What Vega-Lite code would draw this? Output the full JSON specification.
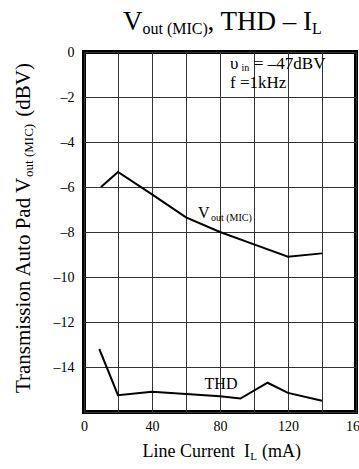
{
  "$schema": "https://vega.github.io/schema/vega-lite/v6.json",
  "width": 272,
  "height": 360,
  "autosize": {"type": "none"},
  "padding": {"left": 84, "top": 52, "right": 3, "bottom": 57},
  "background": "white",
  "config": {
    "view": {"stroke": "black", "strokeWidth": 4},
    "font": "Liberation Serif",
    "axis": {"labelFont": "Liberation Serif", "labelFontSize": 14, "labelColor": "black", "labelFlush": false},
    "text": {"font": "Liberation Serif", "color": "black"}
  },
  "encoding": {
    "x": {
      "field": "x", "type": "quantitative",
      "scale": {"domain": [0, 160], "nice": false, "zero": false},
      "axis": {
        "values": [0, 20, 40, 60, 80, 100, 120, 140, 160],
        "labelExpr": "datum.value % 40 === 0 ? datum.label : ''",
        "grid": true, "gridColor": "#333333", "gridWidth": 1,
        "domain": false, "ticks": false, "labelFlush": false,
        "labelFont": "Liberation Serif", "labelFontSize": 14, "labelColor": "black",
        "labelPadding": 7, "title": null
      }
    },
    "y": {
      "field": "y", "type": "quantitative",
      "scale": {"domain": [-16, 0], "nice": false, "zero": false},
      "axis": {
        "values": [-16, -14, -12, -10, -8, -6, -4, -2, 0],
        "labelExpr": "datum.value === -16 ? '' : (datum.value < 0 ? '–' + abs(datum.value) : '' + datum.value)",
        "grid": true, "gridColor": "#333333", "gridWidth": 1,
        "domain": false, "ticks": false, "labelFlush": false,
        "labelFont": "Liberation Serif", "labelFontSize": 14, "labelColor": "black",
        "labelPadding": 10, "title": null
      }
    }
  },
  "layer": [
    {
      "data": {"values": [
        {"series": "Vout", "x": 10, "y": -6.0},
        {"series": "Vout", "x": 20, "y": -5.33},
        {"series": "Vout", "x": 40, "y": -6.33},
        {"series": "Vout", "x": 60, "y": -7.35},
        {"series": "Vout", "x": 80, "y": -8.0},
        {"series": "Vout", "x": 100, "y": -8.55},
        {"series": "Vout", "x": 120, "y": -9.1},
        {"series": "Vout", "x": 140, "y": -8.95},
        {"series": "THD", "x": 9, "y": -13.2},
        {"series": "THD", "x": 20, "y": -15.25},
        {"series": "THD", "x": 40, "y": -15.1},
        {"series": "THD", "x": 60, "y": -15.2},
        {"series": "THD", "x": 80, "y": -15.3},
        {"series": "THD", "x": 92, "y": -15.4},
        {"series": "THD", "x": 108, "y": -14.7},
        {"series": "THD", "x": 120, "y": -15.15},
        {"series": "THD", "x": 140, "y": -15.5}
      ]},
      "mark": {"type": "line", "color": "black", "strokeWidth": 2},
      "encoding": {"detail": {"field": "series"}}
    },
    {
      "data": {"values": [
        {"x": 22.9, "y": 0.98, "t": "V"}
      ]},
      "mark": {"type": "text", "fontSize": 27, "align": "left", "baseline": "alphabetic"},
      "encoding": {"text": {"field": "t"}}
    },
    {
      "data": {"values": [
        {"x": 134.1, "y": 0.98, "t": ", THD – I"}
      ]},
      "mark": {"type": "text", "fontSize": 27, "align": "right", "baseline": "alphabetic"},
      "encoding": {"text": {"field": "t"}}
    },
    {
      "data": {"values": [
        {"x": 34.4, "y": 0.8, "t": "out (MIC)"},
        {"x": 134.1, "y": 0.8, "t": "L"}
      ]},
      "mark": {"type": "text", "fontSize": 16, "align": "left", "baseline": "alphabetic"},
      "encoding": {"text": {"field": "t"}}
    },
    {
      "data": {"values": [
        {"x": 97.6, "y": -18.0, "t": "Line Current\u00a0\u00a0I"}
      ]},
      "mark": {"type": "text", "fontSize": 18, "align": "right", "baseline": "alphabetic"},
      "encoding": {"text": {"field": "t"}}
    },
    {
      "data": {"values": [
        {"x": 104.7, "y": -18.0, "t": "(mA)"}
      ]},
      "mark": {"type": "text", "fontSize": 18, "align": "left", "baseline": "alphabetic"},
      "encoding": {"text": {"field": "t"}}
    },
    {
      "data": {"values": [
        {"x": 97.8, "y": -18.13, "t": "L"}
      ]},
      "mark": {"type": "text", "fontSize": 11, "align": "left", "baseline": "alphabetic"},
      "encoding": {"text": {"field": "t"}}
    },
    {
      "data": {"values": [
        {"x": -31.5, "y": -15.16, "t": "Transmission Auto Pad V"}
      ]},
      "mark": {"type": "text", "fontSize": 21, "angle": 270, "align": "left", "baseline": "alphabetic"},
      "encoding": {"text": {"field": "t"}}
    },
    {
      "data": {"values": [
        {"x": -31.5, "y": -0.49, "t": "(dBV)"}
      ]},
      "mark": {"type": "text", "fontSize": 21, "angle": 270, "align": "right", "baseline": "alphabetic"},
      "encoding": {"text": {"field": "t"}}
    },
    {
      "data": {"values": [
        {"x": -30.0, "y": -5.55, "t": "out (MIC)"}
      ]},
      "mark": {"type": "text", "fontSize": 13, "angle": 270, "align": "left", "baseline": "alphabetic"},
      "encoding": {"text": {"field": "t"}}
    },
    {
      "data": {"values": [
        {"x": 85.9, "y": -0.76, "t": "υ"},
        {"x": 100.0, "y": -0.76, "t": "= –47dBV"},
        {"x": 85.9, "y": -1.6, "t": "f =1kHz"}
      ]},
      "mark": {"type": "text", "fontSize": 17, "align": "left", "baseline": "alphabetic"},
      "encoding": {"text": {"field": "t"}}
    },
    {
      "data": {"values": [
        {"x": 67.1, "y": -7.38, "t": "V"}
      ]},
      "mark": {"type": "text", "fontSize": 16, "align": "left", "baseline": "alphabetic"},
      "encoding": {"text": {"field": "t"}}
    },
    {
      "data": {"values": [
        {"x": 80.6, "y": -14.98, "t": "THD"}
      ]},
      "mark": {"type": "text", "fontSize": 16, "align": "center", "baseline": "alphabetic"},
      "encoding": {"text": {"field": "t"}}
    },
    {
      "data": {"values": [
        {"x": 92.6, "y": -0.84, "t": "in"},
        {"x": 74.7, "y": -7.51, "t": "out (MIC)"}
      ]},
      "mark": {"type": "text", "fontSize": 10, "align": "left", "baseline": "alphabetic"},
      "encoding": {"text": {"field": "t"}}
    }
  ]
}
